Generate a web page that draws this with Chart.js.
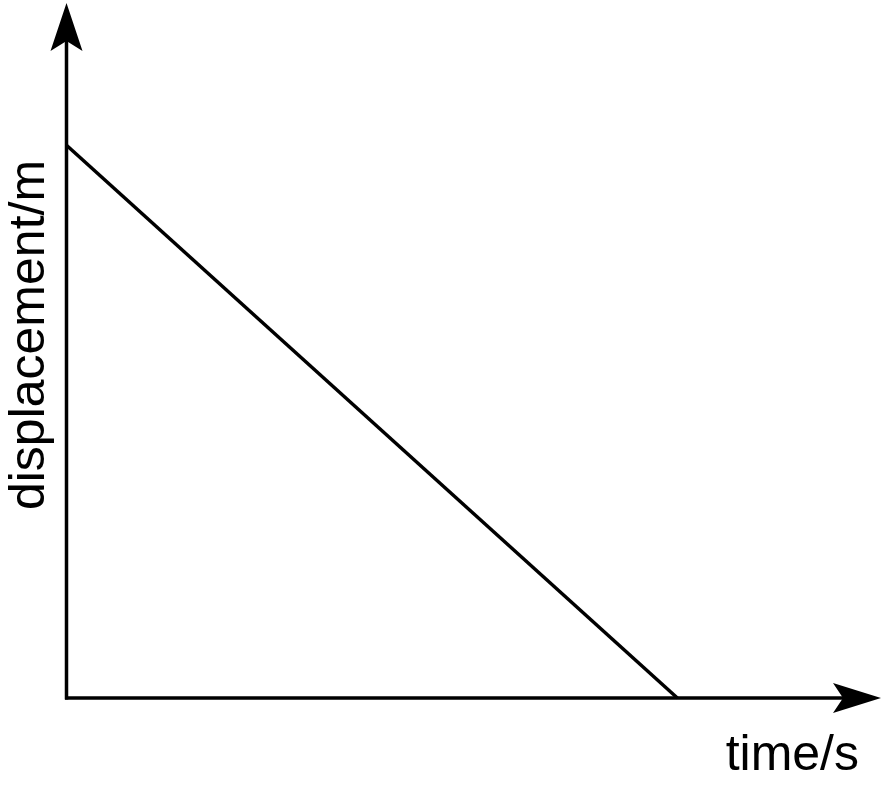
<!DOCTYPE html>
<html lang="en">
<head>
  <meta charset="UTF-8">
  <title>Displacement-time graph</title>
  <script src="https://cdn.jsdelivr.net/npm/chart.js"></script>
  <style>
    body { margin: 0; background: #fff; }
  </style>
</head>
<body>
  <canvas id="dtChart" width="883" height="786"></canvas>

  <script>
    // data (arbitrary units, no ticks shown)
    const timeValues = [0, 7.5];
    const displacementValues = [8, 0];
    const xLabel = 'time/s';
    const yLabel = 'displacement/m';

    const points = timeValues.map((t, i) => ({ x: t, y: displacementValues[i] }));

    // axes with arrowheads plus the two labels
    const arrowAxes = {
      id: 'arrowAxes',
      afterDatasetsDraw(chart) {
        const { ctx, chartArea, scales } = chart;
        const x0 = scales.x.getPixelForValue(0);
        const y0 = scales.y.getPixelForValue(0);
        const yTip = chartArea.top - 4;
        const xTip = chartArea.right;

        ctx.save();
        ctx.strokeStyle = '#000';
        ctx.fillStyle = '#000';
        ctx.lineWidth = 3.5;
        ctx.lineCap = 'butt';

        // y axis
        ctx.beginPath();
        ctx.moveTo(x0, y0 + 1.5);
        ctx.lineTo(x0, yTip + 30);
        ctx.stroke();
        // x axis
        ctx.beginPath();
        ctx.moveTo(x0 - 1.5, y0);
        ctx.lineTo(xTip - 30, y0);
        ctx.stroke();

        // arrowheads (swept back)
        ctx.beginPath();
        ctx.moveTo(x0, yTip);
        ctx.lineTo(x0 + 16, yTip + 48);
        ctx.lineTo(x0, yTip + 38);
        ctx.lineTo(x0 - 16, yTip + 48);
        ctx.closePath();
        ctx.fill();

        ctx.beginPath();
        ctx.moveTo(xTip, y0);
        ctx.lineTo(xTip - 48, y0 - 15);
        ctx.lineTo(xTip - 38, y0);
        ctx.lineTo(xTip - 48, y0 + 15);
        ctx.closePath();
        ctx.fill();

        // labels
        ctx.font = '50px "Liberation Sans", Arial, sans-serif';
        ctx.textAlign = 'right';
        ctx.textBaseline = 'alphabetic';
        ctx.fillText(xLabel, 859, 770);

        ctx.translate(44, 335);
        ctx.rotate(-Math.PI / 2);
        ctx.textAlign = 'center';
        ctx.fillText(yLabel, 0, 0);
        ctx.restore();
      }
    };

    const ctx = document.getElementById('dtChart').getContext('2d');
    new Chart(ctx, {
      type: 'line',
      data: {
        datasets: [{
          data: points,
          borderColor: '#000',
          borderWidth: 3.5,
          pointRadius: 0,
          tension: 0,
          clip: false
        }]
      },
      options: {
        responsive: false,
        animation: false,
        events: [],
        layout: {
          padding: { left: 66.5, right: 2, top: 7, bottom: 88 }
        },
        plugins: {
          legend: { display: false },
          tooltip: { enabled: false }
        },
        scales: {
          x: { type: 'linear', display: false, min: 0, max: 10 },
          y: { type: 'linear', display: false, min: 0, max: 10 }
        }
      },
      plugins: [arrowAxes]
    });
  </script>
</body>
</html>
